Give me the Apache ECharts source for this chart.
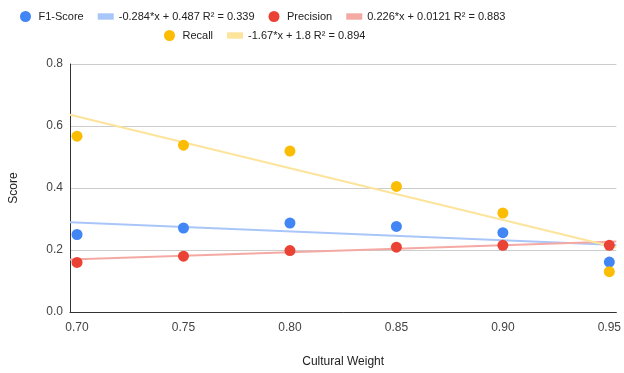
<!DOCTYPE html>
<html><head><meta charset="utf-8">
<script src="https://cdn.jsdelivr.net/npm/echarts@6/dist/echarts.min.js"></script>
<style>html,body{margin:0;padding:0;background:#fff}#c{width:624px;height:373px}</style>
</head><body><div id="c"></div>
<script>
const weights = [0.70, 0.75, 0.80, 0.85, 0.90, 0.95];
const f1Score = [0.250, 0.271, 0.287, 0.276, 0.256, 0.161];
const precision = [0.160, 0.180, 0.198, 0.209, 0.215, 0.215];
const recall = [0.567, 0.538, 0.519, 0.405, 0.319, 0.130];
const xTicks = [0.70, 0.75, 0.80, 0.85, 0.90, 0.95];
const yTicks = [0, 0.2, 0.4, 0.6, 0.8];
// trendline coefficients as printed in the legend
const trendSlopes = [-0.284, 0.226, -1.67];
const trendIntercepts = [0.487, 0.0121, 1.8];
const trendNames = ['-0.284*x + 0.487 R² = 0.339', '0.226*x + 0.0121 R² = 0.883', '-1.67*x + 1.8 R² = 0.894'];
const seriesNames = ['F1-Score', 'Precision', 'Recall'];
const colors = ['#4285F4', '#EA4335', '#FBBC04'];
const trendColors = ['#A9C6FA', '#F5A9A3', '#FDE49B'];

const xMin = 0.6967, xMax = 0.9533;
const values = [f1Score, precision, recall];
const series = [];
for (let i = 0; i < 3; i++) {
  series.push({
    name: trendNames[i], type: 'line', z: 1, symbol: 'none', silent: true,
    lineStyle: {color: trendColors[i], width: 2},
    itemStyle: {color: trendColors[i]},
    data: [xMin, xMax].map(x => [x, trendSlopes[i] * x + trendIntercepts[i]])
  });
}
for (let i = 0; i < 3; i++) {
  series.push({
    name: seriesNames[i], type: 'scatter', z: 3, symbolSize: 11,
    itemStyle: {color: colors[i], opacity: 1},
    data: weights.map((w, k) => [w, values[i][k]])
  });
}
const lineIcon = 'path://M0,0 L10,0 L10,4 L0,4 Z';
const chart = echarts.init(document.getElementById('c'));
chart.setOption({
  animation: false,
  textStyle: {fontFamily: 'Arial, "Liberation Sans", sans-serif'},
  legend: [
    {top: 6, left: 15, itemWidth: 16, itemHeight: 11, itemGap: 14,
     textStyle: {fontSize: 11, color: '#222'},
     data: [
       {name: 'F1-Score', icon: 'circle'},
       {name: trendNames[0], icon: lineIcon},
       {name: 'Precision', icon: 'circle'},
       {name: trendNames[1], icon: lineIcon}
     ]},
    {top: 25, left: 159, itemWidth: 16, itemHeight: 11, itemGap: 14,
     textStyle: {fontSize: 11, color: '#222'},
     data: [
       {name: 'Recall', icon: 'circle'},
       {name: trendNames[2], icon: lineIcon}
     ]}
  ],
  grid: {left: 69, right: 6, top: 64, bottom: 59},
  xAxis: {
    type: 'value', min: xMin, max: xMax,
    name: 'Cultural Weight', nameLocation: 'middle', nameGap: 44,
    nameTextStyle: {fontSize: 12, color: '#222'},
    axisLine: {show: true, onZero: false, lineStyle: {color: '#333', width: 1}},
    axisTick: {show: false},
    splitLine: {show: false},
    axisLabel: {customValues: xTicks, formatter: v => v.toFixed(2), color: '#444', fontSize: 12, margin: 10}
  },
  yAxis: {
    type: 'value', min: 0, max: 0.8, interval: 0.2,
    name: 'Score', nameLocation: 'middle', nameGap: 50,
    nameTextStyle: {fontSize: 12, color: '#222'},
    axisLine: {show: true, lineStyle: {color: '#333', width: 1}},
    axisTick: {show: false},
    splitLine: {show: true, lineStyle: {color: '#cccccc', width: 1}},
    axisLabel: {customValues: yTicks, formatter: v => v.toFixed(1), color: '#444', fontSize: 12, margin: 7}
  },
  series: series
});
</script></body></html>
